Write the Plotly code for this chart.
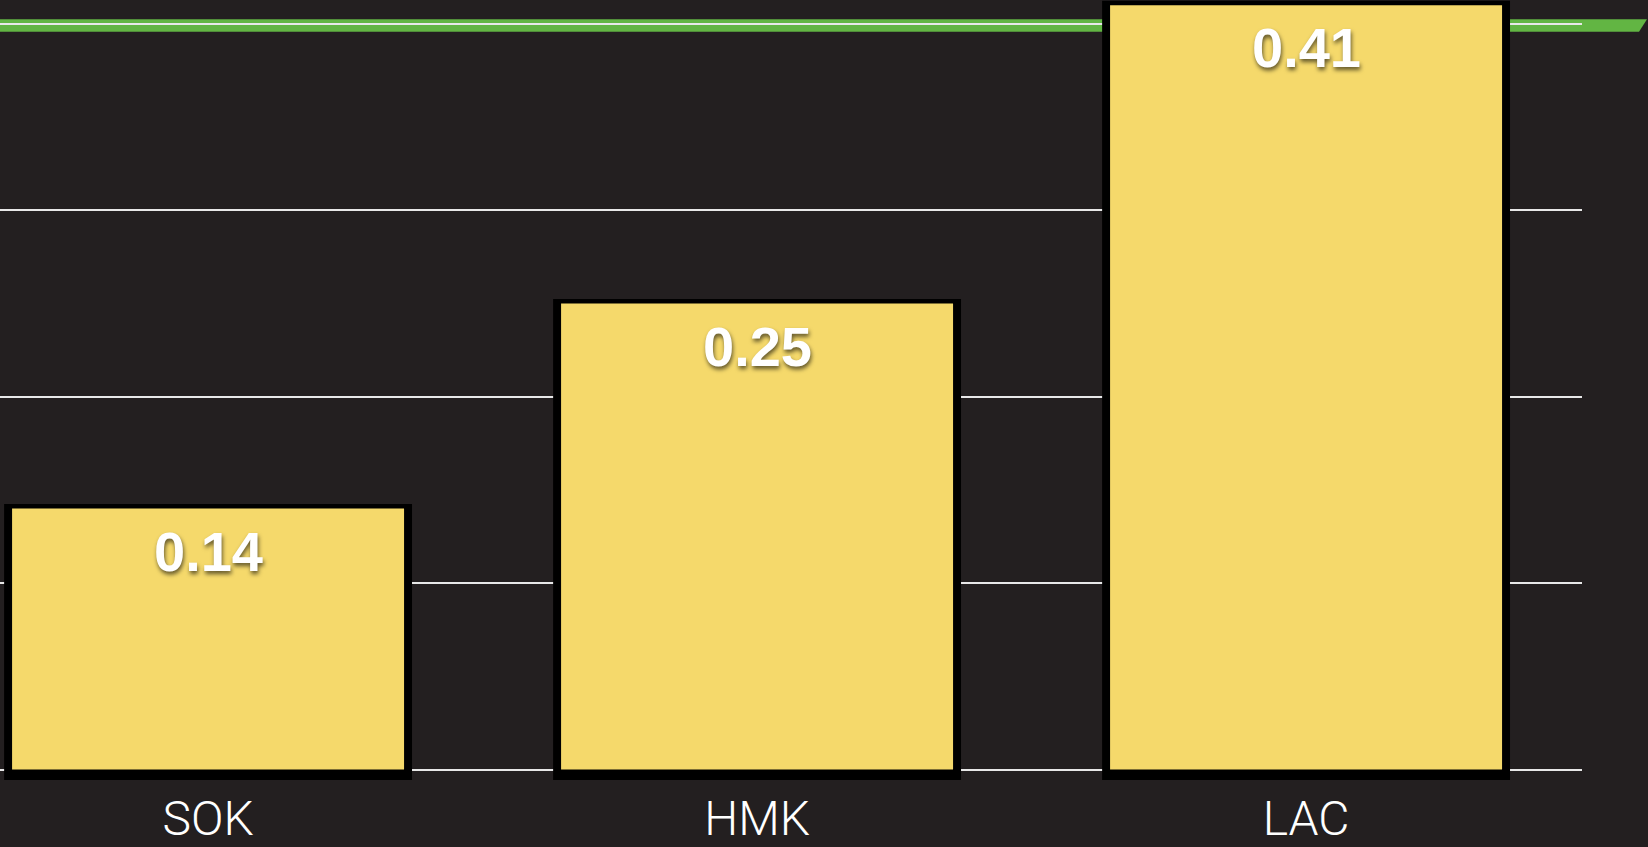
import plotly.graph_objects as go

categories = ["SOK", "HMK", "LAC"]
values = [0.14, 0.25, 0.41]
label_texts = ["0.14", "0.25", "0.41"]
grid_ticks = [0, 0.1, 0.2, 0.3, 0.4]

BG = "#231f20"
YELLOW = "#f5d96b"
FRAME = "#000000"
GREEN = "#62b543"

W, H = 1648, 847
ML, MR, MT, MB = 0, 66, 0, 57
plot_h = H - MT - MB
px_per_unit = 1863.75
ymax = 769.5 / px_per_unit
ymin = ymax - plot_h / px_per_unit

pad_top = 4.5 / px_per_unit
pad_bottom = 10.5 / px_per_unit

fig = go.Figure()

# black frame behind each bar
fig.add_trace(go.Bar(
    x=categories,
    y=[v + pad_top + pad_bottom for v in values],
    base=[-pad_bottom] * len(values),
    width=0.743,
    marker=dict(color=FRAME, line=dict(width=0)),
    hoverinfo="skip",
    showlegend=False,
))
# yellow bars
fig.add_trace(go.Bar(
    x=categories,
    y=values,
    width=0.714,
    marker=dict(color=YELLOW, line=dict(width=0)),
    showlegend=False,
))

for c, v, t in zip(categories, values, label_texts):
    fig.add_annotation(
        x=c, y=v, xref="x", yref="y",
        text=t, showarrow=False,
        yanchor="top", yshift=-9,
        font=dict(family="Liberation Sans, Arial, sans-serif", size=56,
                  color="white", weight="bold",
                  shadow="1px 3px 4px rgba(0,0,0,0.6)"),
    )

# green decorative band at top
y_top = 1 - 19.3 / plot_h
y_bot = 1 - 31.7 / plot_h
plot_w = W - ML - MR
xr1 = 1647 / plot_w
xr2 = 1639 / plot_w
fig.add_shape(
    type="path", xref="paper", yref="paper",
    path=f"M -0.01,{y_top} L {xr1},{y_top} L {xr2},{y_bot} L -0.01,{y_bot} Z",
    fillcolor=GREEN, line=dict(width=0), layer="below",
)

fig.update_layout(
    width=W, height=H,
    margin=dict(l=ML, r=MR, t=MT, b=MB, autoexpand=False),
    paper_bgcolor=BG, plot_bgcolor=BG,
    barmode="overlay",
    showlegend=False,
    xaxis=dict(
        range=[-0.379, -0.379 + plot_w / 549.0],
        showgrid=False, zeroline=False, showline=False,
        ticks="", automargin=False,
        tickfont=dict(family="Roboto, Helvetica Neue, sans-serif", size=48,
                      color="white", weight=300),
        ticklabelstandoff=-4,
    ),
    yaxis=dict(
        range=[ymin, ymax],
        tickvals=grid_ticks,
        showticklabels=False, automargin=False,
        showgrid=True, gridcolor="#e8e8e8", gridwidth=2,
        zeroline=False, showline=False, ticks="",
    ),
)

fig.write_html(
    "out.html",
    config={"displayModeBar": False},
    post_script="document.body.style.margin='0';document.body.style.padding='0';"
                "document.body.style.background='#231f20';"
                "document.body.style.overflow='hidden';",
)
